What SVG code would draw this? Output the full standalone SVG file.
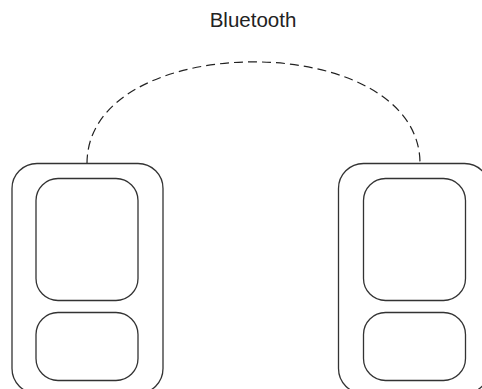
<svg xmlns="http://www.w3.org/2000/svg" width="482" height="389" viewBox="0 0 482 389">
<style>
.box{fill:none;stroke:#333;stroke-width:1.3}
.link{fill:none;stroke:#222;stroke-width:1.2;stroke-dasharray:9 5}
.lbl{font-family:"Liberation Sans",Arial,sans-serif;font-size:20.5px;fill:#222}
</style>
<rect width="482" height="389" fill="#fff"/>
<g id="connectors">
<path class="link" d="M87,163.5 C87,28 420,28 420,163.5"/>
</g>
<text class="lbl" x="253" y="27" text-anchor="middle">Bluetooth</text>
<g id="device-left">
<rect class="box" x="12" y="163.5" width="151" height="230" rx="25"/>
<rect class="box" x="36" y="178.5" width="102" height="122" rx="22"/>
<rect class="box" x="36" y="312.5" width="102" height="68" rx="22"/>
</g>
<g id="device-right">
<rect class="box" x="338.5" y="163.5" width="151" height="230" rx="25"/>
<rect class="box" x="363.5" y="178.5" width="102" height="122" rx="22"/>
<rect class="box" x="363.5" y="312.5" width="102" height="68" rx="22"/>
</g>
</svg>
